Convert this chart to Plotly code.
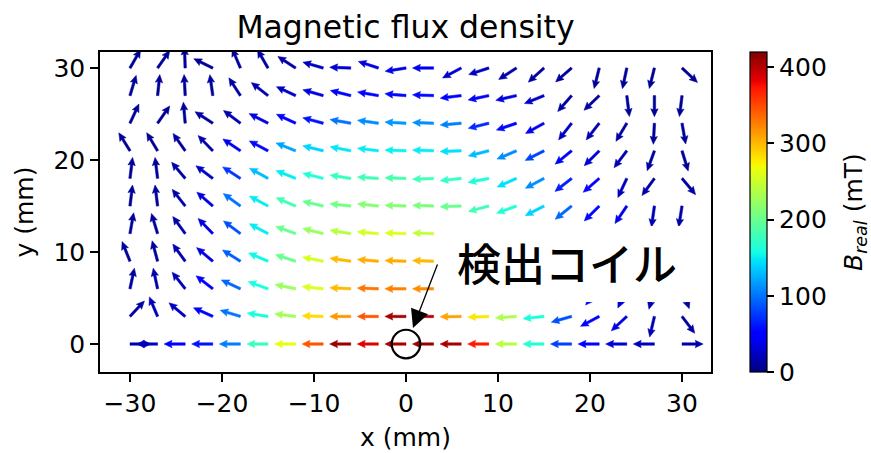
import numpy as np
import plotly.graph_objects as go

# ---------------- data ----------------
x_mm = [-30, -27, -24, -21, -18, -15, -12, -9, -6, -3, 0, 3, 6, 9, 12, 15, 18, 21, 24, 27, 30]
y_mm = [0, 3, 6, 9, 12, 15, 18, 21, 24, 27, 30]

# arrow direction (degrees, counter-clockwise from +x) per row
ang_y0 = [0, 180, 180, 180, 180, 180, 180, 180, 180, 180, 180, 180, 180, 180, 180, 180, 180, 180, 180, 180, 0]
ang_y3 = [47, 113, 140, 156, 163, 171, 173, 178, 180, 180, 180, 180, 181, 182, 184, 186, 196, 208, 223, 257, 307]
ang_y6 = [78, 102, 128, 142, 155, 160, 168, 174, 177, 178, 180, 180, 182, 190, 200, 210, 218, 230, 245, 255, 290]
ang_y9 = [112, 105, 126, 140, 148, 157, 162, 169, 172, 175, 178, 178, 183, 192, 200, 208, 218, 228, 238, 255, 285]
ang_y12 = [80, 107, 126, 134, 143, 152, 160, 166, 171, 175, 178, 178, 183, 193, 200, 207, 218, 225, 235, 258, 270]
ang_y15 = [83, 97, 128, 139, 144, 152, 157, 167, 174, 174, 178, 178, 182, 195, 200, 207, 219, 225, 236, 262, 261]
ang_y18 = [83, 97, 130, 143, 147, 151, 158, 166, 171, 176, 178, 182, 186, 191, 204, 208, 218, 221, 245, 234, 310]
ang_y21 = [122, 121, 125, 134, 146, 152, 158, 166, 169, 173, 178, 178, 182, 194, 203, 207, 219, 225, 233, 250, 287]
ang_y24 = [65, 55, 95, 147, 143, 153, 155, 165, 170, 172, 177, 178, 185, 194, 199, 209, 232, 232, 239, 267, 280]
ang_y27 = [73, 84, 93, 98, 123, 142, 155, 164, 166, 170, 175, 178, 187, 192, 193, 202, 229, 224, 277, 270, 263]
ang_y30 = [60, 55, 92, 154, 113, 120, 147, 164, 178, 162, 189, 180, 208, 198, 213, 222, 221, 256, 258, 256, 317]

# |B| in mT per row
b_y0 = [12, 22, 50, 60, 105, 175, 265, 345, 410, 385, 405, 410, 405, 370, 240, 165, 80, 50, 30, 20, 15]
b_y3 = [15, 20, 25, 50, 100, 160, 230, 285, 315, 345, 405, 400, 310, 280, 235, 160, 85, 50, 35, 20, 12]
b_y6 = [10, 15, 20, 45, 95, 160, 225, 260, 300, 330, 325, 320, 300, 255, 205, 150, 95, 55, 30, 18, 12]
b_y9 = [10, 12, 18, 35, 90, 155, 200, 255, 300, 305, 305, 300, 280, 240, 195, 150, 100, 55, 30, 18, 12]
b_y12 = [8, 10, 15, 35, 85, 150, 200, 225, 240, 255, 260, 245, 235, 215, 190, 145, 95, 55, 35, 18, 12]
b_y15 = [8, 10, 14, 35, 100, 150, 180, 200, 205, 215, 215, 210, 200, 180, 165, 140, 95, 55, 40, 20, 15]
b_y18 = [8, 10, 13, 28, 75, 130, 150, 165, 175, 180, 185, 180, 172, 160, 145, 110, 65, 45, 22, 15, 12]
b_y21 = [8, 9, 11, 16, 40, 55, 120, 140, 148, 150, 152, 150, 145, 130, 110, 80, 45, 30, 18, 12, 10]
b_y24 = [8, 9, 10, 13, 18, 35, 50, 60, 100, 110, 115, 112, 105, 70, 55, 42, 25, 18, 14, 10, 8]
b_y27 = [8, 8, 9, 10, 13, 18, 25, 32, 45, 50, 55, 55, 50, 45, 35, 25, 15, 12, 10, 8, 8]
b_y30 = [8, 8, 8, 9, 10, 12, 15, 22, 30, 35, 38, 40, 28, 22, 16, 12, 10, 9, 8, 8, 8]

angle_rows = [ang_y0, ang_y3, ang_y6, ang_y9, ang_y12, ang_y15, ang_y18, ang_y21, ang_y24, ang_y27, ang_y30]
b_rows = [b_y0, b_y3, b_y6, b_y9, b_y12, b_y15, b_y18, b_y21, b_y24, b_y27, b_y30]

x_ticks = [-30, -20, -10, 0, 10, 20, 30]
y_ticks = [0, 10, 20, 30]
cbar_ticks = [0, 100, 200, 300, 400]
b_min, b_max = 0, 420

annot_text = "検出コイル"

# ---------------- style ----------------
FONT = "DejaVu Sans"
R_KNOTS = ([0, 0.35, 0.66, 0.89, 1], [0, 0, 1, 1, 0.5])
G_KNOTS = ([0, 0.125, 0.375, 0.64, 0.91, 1], [0, 0, 1, 1, 0, 0])
B_KNOTS = ([0, 0.11, 0.34, 0.65, 1], [0.5, 1, 1, 0, 0])


def jet(t):
    t = min(max(t, 0.0), 1.0)
    r = np.interp(t, *R_KNOTS)
    g = np.interp(t, *G_KNOTS)
    b = np.interp(t, *B_KNOTS)
    return "rgb(%d,%d,%d)" % (round(r * 255), round(g * 255), round(b * 255))


stops = sorted(set(R_KNOTS[0] + G_KNOTS[0] + B_KNOTS[0]))
jet_scale = [[s, jet(s)] for s in stops]

# arrow geometry (data units, axes have equal scale)
L, W, HW, HL, HAL = 2.3, 0.27, 0.8, 0.87, 0.78
local = [(0, -W / 2), (L - HAL, -W / 2), (L - HL, -HW / 2), (L, 0),
         (L - HL, HW / 2), (L - HAL, W / 2), (0, W / 2), (0, -W / 2)]

fig = go.Figure()
for yv, angs, bs in zip(y_mm, angle_rows, b_rows):
    for xv, a, bval in zip(x_mm, angs, bs):
        th = np.deg2rad(a)
        c, s = np.cos(th), np.sin(th)
        px = [xv + u * c - v * s for u, v in local]
        py = [yv + u * s + v * c for u, v in local]
        col = jet((bval - b_min) / (b_max - b_min))
        fig.add_trace(go.Scatter(x=px, y=py, mode="lines", fill="toself",
                                 fillcolor=col, line=dict(color=col, width=0.5),
                                 hoverinfo="skip", showlegend=False))

# colorbar carrier
fig.add_trace(go.Scatter(
    x=[0], y=[0], mode="markers", showlegend=False, hoverinfo="skip",
    marker=dict(size=1, opacity=0, color=[0], colorscale=jet_scale, cmin=b_min, cmax=b_max,
                showscale=True,
                colorbar=dict(x=1.064, xanchor="left", xpad=0, y=0.5, yanchor="middle",
                              len=1, lenmode="fraction", ypad=0, thickness=17,
                              outlinecolor="black", outlinewidth=1.2,
                              tickvals=cbar_ticks, ticks="outside", ticklen=7, tickwidth=1.5,
                              tickcolor="black",
                              tickfont=dict(family=FONT, size=25, color="black")))))

x0_box, x1_box, y0_box, y1_box = 3.37, 31.96, 4.57, 12.83
fig.add_shape(type="rect", xref="x", yref="y", x0=x0_box, x1=x1_box, y0=y0_box, y1=y1_box,
              fillcolor="white", line=dict(width=0), layer="above")
fig.add_shape(type="circle", xref="x", yref="y", x0=-1.55, x1=1.55, y0=-1.55, y1=1.55,
              line=dict(color="black", width=2.2), layer="above")

fig.add_annotation(x=(x0_box + x1_box) / 2 - 0.2, y=8.9, xref="x", yref="y", text=annot_text,
                   showarrow=False,
                   font=dict(family="Noto Sans CJK JP", size=44, color="black", weight=500),
                   xanchor="center", yanchor="middle")
fig.add_annotation(x=0.76, y=1.74, ax=3.48, ay=8.8, xref="x", yref="y", axref="x", ayref="y",
                   text="", showarrow=True, arrowhead=2, arrowsize=2.8, arrowwidth=1.3,
                   arrowcolor="black", standoff=0)
fig.add_annotation(x=1.2357, y=0.5, xref="paper", yref="paper", textangle=-90,
                   text="<i>B</i><sub><i>real</i></sub> (mT)", showarrow=False,
                   font=dict(family=FONT, size=25, color="black"),
                   xanchor="center", yanchor="middle")

axis_common = dict(showline=True, linecolor="black", linewidth=1.5, mirror=True,
                   ticks="outside", ticklen=8, tickwidth=1.5, tickcolor="black",
                   showgrid=False, zeroline=False, automargin=False,
                   tickfont=dict(family=FONT, size=25, color="black"))

fig.update_layout(
    width=871, height=453,
    margin=dict(l=100, r=160, t=52, b=81, autoexpand=False),
    paper_bgcolor="white", plot_bgcolor="white",
    title=dict(text="Magnetic flux density", x=0.5, xref="paper", xanchor="center",
               y=1 - 27 / 453, yref="container", yanchor="middle",
               font=dict(family=FONT, size=31.5, color="black")),
    xaxis=dict(range=[-33.26, 33.15], tickvals=x_ticks,
               ticktext=[("−%d" % -v) if v < 0 else str(v) for v in x_ticks],
               title=dict(text="x (mm)", font=dict(family=FONT, size=25, color="black"), standoff=12),
               **axis_common),
    yaxis=dict(range=[-3.04, 31.74], tickvals=y_ticks,
               title=dict(text="y (mm)", font=dict(family=FONT, size=25, color="black"), standoff=13),
               **axis_common),
    showlegend=False,
)

fig.write_html("out.html")
